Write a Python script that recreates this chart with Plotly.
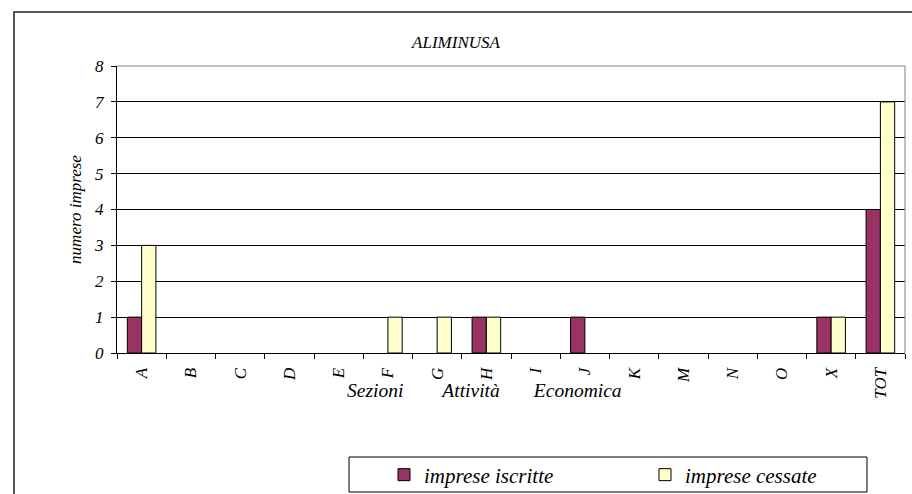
import plotly.graph_objects as go

categories = ["A", "B", "C", "D", "E", "F", "G", "H", "I", "J", "K", "M", "N", "O", "X", "TOT"]
iscritte = [1, 0, 0, 0, 0, 0, 0, 1, 0, 1, 0, 0, 0, 0, 1, 4]
cessate = [3, 0, 0, 0, 0, 1, 1, 1, 0, 0, 0, 0, 0, 0, 1, 7]
y_ticks = [0, 1, 2, 3, 4, 5, 6, 7, 8]

W, H = 912, 494
L, R, T, B = 117, 7, 66, 141
PW, PH = W - L - R, H - T - B

def px(x):
    return (x - L) / PW

def py(y):
    return (H - B - y) / PH

FONT = "Liberation Serif"

def hide_zero(vals):
    return [v if v else None for v in vals]

fig = go.Figure()
fig.add_trace(go.Bar(x=categories, y=hide_zero(iscritte), name="imprese iscritte",
                     marker=dict(color="#993366", line=dict(color="#000000", width=1))))
fig.add_trace(go.Bar(x=categories, y=hide_zero(cessate), name="imprese cessate",
                     marker=dict(color="#FFFFCC", line=dict(color="#000000", width=1))))

NB = "\u00a0"
fig.update_layout(
    width=W, height=H,
    margin=dict(l=L, r=R, t=T, b=B, autoexpand=False),
    paper_bgcolor="white", plot_bgcolor="white",
    barmode="group", bargap=0.42, bargroupgap=0,
    font=dict(family=FONT, size=17, color="#000000", style="italic"),
    title=dict(text="ALIMINUSA", x=px(511), xanchor="center", y=1 - 42 / H, yanchor="middle",
               font=dict(family=FONT, size=17, style="italic")),
    showlegend=True,
    legend=dict(orientation="h", x=px(384), xanchor="left", y=py(475), yanchor="middle",
                entrywidth=216, entrywidthmode="pixels",
                font=dict(family=FONT, size=21, style="italic"),
                bgcolor="rgba(0,0,0,0)", borderwidth=0, traceorder="normal"),
    xaxis=dict(type="category", categoryorder="array", categoryarray=categories,
               tickangle=-90, tickson="boundaries", ticks="outside", ticklen=5,
               ticklabelstandoff=7,
               tickcolor="#000000", showline=True, linecolor="#000000", linewidth=1,
               showgrid=False, tickfont=dict(family=FONT, size=17, style="italic")),
    yaxis=dict(range=[0, 8], tickvals=y_ticks, ticks="outside", ticklen=5, tickcolor="#000000",
               ticklabelstandoff=4,
               showline=True, linecolor="#000000", linewidth=1, showgrid=True,
               gridcolor="#000000", gridwidth=1, zeroline=False,
               tickfont=dict(family=FONT, size=17, style="italic"),
               title=dict(text="numero imprese", standoff=8,
                          font=dict(family=FONT, size=17, style="italic"))),
    shapes=[
        dict(type="line", xref="paper", yref="paper", x0=0, x1=1, y0=1, y1=1,
             line=dict(color="#808080", width=1), layer="above"),
        dict(type="line", xref="paper", yref="paper", x0=1, x1=1, y0=0, y1=1,
             line=dict(color="#808080", width=1), layer="above"),
        dict(type="rect", xref="paper", yref="paper", x0=px(14), x1=px(916), y0=py(12), y1=py(498),
             line=dict(color="#222222", width=1.5), layer="above"),
        dict(type="rect", xref="paper", yref="paper", x0=px(349), x1=px(867), y0=py(457), y1=py(492),
             line=dict(color="#000000", width=1), layer="above"),
    ],
    annotations=[
        dict(text="Sezioni" + NB * 8 + "Attività" + NB * 7 + "Economica",
             xref="paper", yref="paper", x=px(484), y=py(390), xanchor="center", yanchor="middle",
             showarrow=False, font=dict(family=FONT, size=19.5, style="italic")),
    ],
)

fig.write_html("out.html", config={"displayModeBar": False},
               post_script="document.body.style.margin='0';")
